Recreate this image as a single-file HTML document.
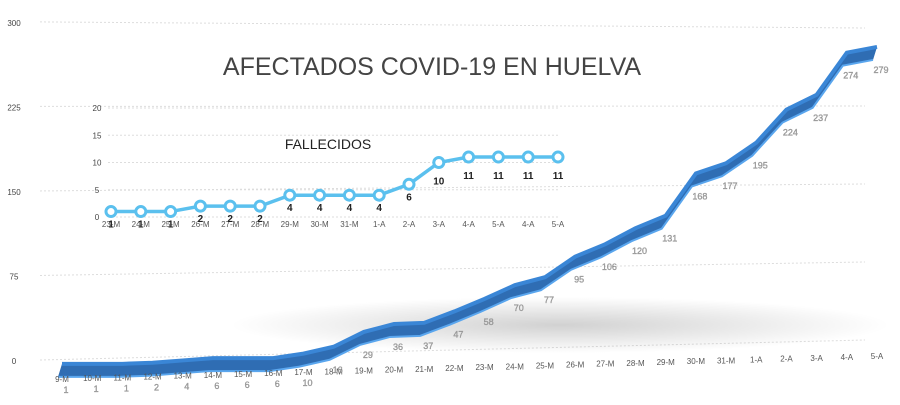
<!DOCTYPE html>
<html><head><meta charset="utf-8"><style>
body{margin:0;background:#fff;}
svg{font-family:"Liberation Sans",sans-serif;display:block}
</style></head><body>
<svg width="900" height="405" viewBox="0 0 900 405">
<defs>
<radialGradient id="sh" cx="0.5" cy="0.5" r="0.5"><stop offset="0" stop-color="#000" stop-opacity="0.18"/><stop offset="1" stop-color="#000" stop-opacity="0"/></radialGradient>
</defs>
<g id="grid"></g>
<ellipse cx="560" cy="325" rx="330" ry="28" fill="url(#sh)"/>
<g id="main"></g>
<g id="inset"></g>
<text x="432" y="75" text-anchor="middle" font-size="25" fill="#444">AFECTADOS COVID-19 EN HUELVA</text>
<text x="328" y="149" text-anchor="middle" font-size="14" fill="#222">FALLECIDOS</text>
</svg>
<script>
const mainCats=["9-M","10-M","11-M","12-M","13-M","14-M","15-M","16-M","17-M","18-M","19-M","20-M","21-M","22-M","23-M","24-M","25-M","26-M","27-M","28-M","29-M","30-M","31-M","1-A","2-A","3-A","4-A","5-A"];
const mainVals=[1,1,1,2,4,6,6,6,10,16,29,36,37,47,58,70,77,95,106,120,131,168,177,195,224,237,274,279];
const mainTicks=[0,75,150,225,300];
const insetCats=["23-M","24-M","25-M","26-M","27-M","28-M","29-M","30-M","31-M","1-A","2-A","3-A","4-A","5-A","4-A","5-A"];
const insetVals=[1,1,1,2,2,2,4,4,4,4,6,10,11,11,11,11];
const insetTicks=[0,5,10,15,20];
const NS="http://www.w3.org/2000/svg";
function mk(t,a,p){const e=document.createElementNS(NS,t);for(const k in a)e.setAttribute(k,a[k]);p.appendChild(e);return e;}
const grid=document.getElementById('grid'),mainG=document.getElementById('main'),insetG=document.getElementById('inset');
const mx=i=>62+i*(877-62)/(mainCats.length-1);
const my=v=>365-v*1.14;
mainTicks.forEach((t)=>{
 const yl=360-t*1.127,yr=340-t*1.04;
 const l=mk('line',{x1:40,y1:yl,x2:865,y2:yr,stroke:'#ddd','stroke-dasharray':'2,2'},grid);
 
 
 const tx=mk('text',{x:14,y:yl+4,'text-anchor':'middle','font-size':8,fill:'#444'},grid);
 tx.textContent=t;
 
 
});
const topPts=[],botPts=[];
mainVals.forEach((v,i)=>{topPts.push([mx(i),my(v)]);botPts.push([mx(i)-4,my(v)+13]);});
const poly=topPts.map(p=>p.join(',')).concat(botPts.slice().reverse().map(p=>p.join(','))).join(' ');
const rib=mk('polygon',{points:poly,fill:'#2f6db3'},mainG);


const tl=mk('polyline',{points:topPts.map(p=>p.join(',')).join(' '),fill:'none',stroke:'#3a86d6','stroke-width':4},mainG);


const bl=mk('polyline',{points:botPts.map(p=>p.join(',')).join(' '),fill:'none',stroke:'#5aa6ee','stroke-width':2},mainG);


mainCats.forEach((c,i)=>{
 const x=mx(i),ly=382-i*0.85;
 const t=mk('text',{x:x,y:ly,'text-anchor':'middle','font-size':8,fill:'#555'},mainG);
 t.textContent=c;
 
 
 const v=mainVals[i];
 const vy=v<12?ly+11:my(v)+26;
 const vt=mk('text',{x:x+4,y:vy,'text-anchor':'middle','font-size':9,fill:'#aaa',stroke:'#888','stroke-width':0.3},mainG);
 vt.textContent=v;
 
 
});
const ix=i=>111+i*(558-111)/(insetCats.length-1);
const iy=v=>217-v*5.45;
insetTicks.forEach(t=>{
 const l=mk('line',{x1:108,y1:iy(t),x2:560,y2:iy(t),stroke:'#ddd','stroke-dasharray':'2,2'},insetG);
 
 
 const tx=mk('text',{x:97,y:iy(t)+3,'text-anchor':'middle','font-size':8,fill:'#444'},insetG);
 tx.textContent=t;
 
 
});
const il=mk('polyline',{points:insetVals.map((v,i)=>ix(i)+','+iy(v)).join(' '),fill:'none',stroke:'#5bc0ee','stroke-width':3.5},insetG);


insetVals.forEach((v,i)=>{
 const c=mk('circle',{cx:ix(i),cy:iy(v),r:5,fill:'#fff',stroke:'#5bc0ee','stroke-width':3},insetG);
 
 
 const tx=mk('text',{x:ix(i),y:227,'text-anchor':'middle','font-size':8,fill:'#555'},insetG);
 tx.textContent=insetCats[i];
 
 
 const vt=mk('text',{x:ix(i),y:iy(v)+(v<8?16:22),'text-anchor':'middle','font-size':10,'font-weight':'bold',fill:'#222'},insetG);
 vt.textContent=v;
 
 
});
</script>
</body></html>
